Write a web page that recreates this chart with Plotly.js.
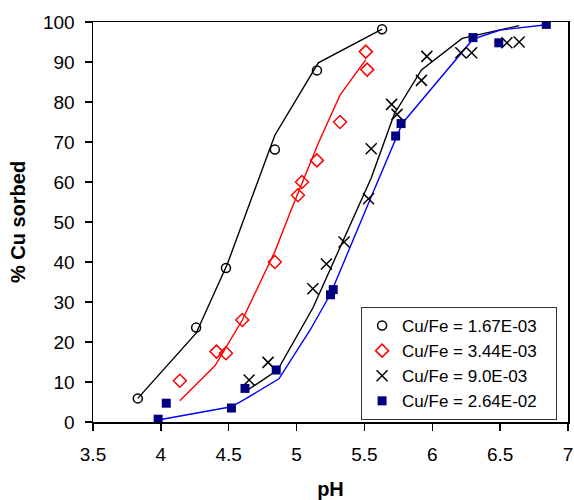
<!DOCTYPE html>
<html>
<head>
<meta charset="utf-8">
<script src="https://cdn.plot.ly/plotly-3.0.1.min.js"></script>
<style>html,body{margin:0;padding:0;background:#fff;}#chart{width:574px;height:500px;}</style>
</head>
<body>
<div id="chart"></div>
<script>
// Measured data (pH, % Cu sorbed)
var s1Name = "Cu/Fe = 1.67E-03";
var s1X = [3.83, 4.26, 4.48, 4.84, 5.15, 5.63];
var s1Y = [5.9, 23.6, 38.5, 68.1, 87.9, 98.2];

var s2Name = "Cu/Fe = 3.44E-03";
var s2X = [4.14, 4.41, 4.48, 4.60, 4.84, 5.01, 5.04, 5.15, 5.32, 5.51, 5.52];
var s2Y = [10.3, 17.6, 17.2, 25.5, 40.0, 56.7, 60.0, 65.4, 75.0, 92.6, 88.1];

var s3Name = "Cu/Fe = 9.0E-03";
var s3X = [4.65, 4.79, 5.12, 5.22, 5.35, 5.53, 5.55, 5.70, 5.74, 5.92, 5.96, 6.21, 6.29, 6.55, 6.64];
var s3Y = [10.5, 14.9, 33.3, 39.5, 45.0, 55.8, 68.3, 79.4, 76.9, 85.4, 91.4, 92.3, 92.3, 94.8, 95.0];

var s4Name = "Cu/Fe = 2.64E-02";
var s4X = [3.98, 4.04, 4.52, 4.62, 4.85, 5.25, 5.27, 5.73, 5.77, 6.30, 6.49, 6.84];
var s4Y = [0.7, 4.7, 3.5, 8.4, 13.0, 31.8, 33.1, 71.5, 74.6, 96.1, 94.8, 99.4];

// Model (fit) curves
var f1X = [3.83, 4.26, 4.49, 4.84, 5.16, 5.63];
var f1Y = [5.9, 22.2, 39.5, 71.7, 89.8, 98.2];

var f2X = [4.14, 4.40, 4.60, 4.84, 4.96, 5.16, 5.32, 5.51];
var f2Y = [5.3, 14.1, 25.5, 42.6, 53.0, 69.7, 81.7, 90.6];

var f3X = [4.64, 4.86, 5.12, 5.32, 5.55, 5.72, 5.92, 6.22, 6.64];
var f3Y = [8.0, 13.0, 28.5, 43.5, 61.0, 77.0, 88.0, 95.9, 99.1];

var f4X = [3.98, 4.52, 4.62, 4.87, 5.10, 5.25, 5.54, 5.74, 5.78, 6.30, 6.50, 6.84];
var f4Y = [0.5, 3.8, 5.7, 10.8, 23.0, 32.0, 55.5, 71.3, 74.7, 95.7, 98.0, 99.3];

var FONT = "Liberation Sans, Arial, Helvetica, sans-serif";
var PAD = "\u00a0\u00a0\u00a0"; // right padding inside the legend box

function fitLine(x, y, color) {
  return {x: x, y: y, type: "scatter", mode: "lines", showlegend: false,
          hoverinfo: "skip", line: {color: color, width: 1.4}};
}

var traces = [
  fitLine(f1X, f1Y, "#000000"),
  fitLine(f2X, f2Y, "#ff0000"),
  fitLine(f3X, f3Y, "#000000"),
  fitLine(f4X, f4Y, "#0000ff"),
  {x: s1X, y: s1Y, name: s1Name + PAD, type: "scatter", mode: "markers",
   marker: {symbol: "circle-open", size: 9, color: "#000000", line: {width: 1.5, color: "#000000"}}},
  {x: s2X, y: s2Y, name: s2Name + PAD, type: "scatter", mode: "markers",
   marker: {symbol: "diamond-open", size: 10, color: "#ff0000", line: {width: 1.5, color: "#ff0000"}}},
  {x: s3X, y: s3Y, name: s3Name + PAD, type: "scatter", mode: "markers",
   marker: {symbol: "x-thin-open", size: 11, color: "#000000", line: {width: 1.5, color: "#000000"}}},
  {x: s4X, y: s4Y, name: s4Name + PAD, type: "scatter", mode: "markers",
   marker: {symbol: "square", size: 9, color: "#000080", line: {width: 0}}}
];

var layout = {
  width: 574, height: 500,
  margin: {l: 93, r: 6, t: 22, b: 78},
  paper_bgcolor: "#ffffff", plot_bgcolor: "#ffffff",
  font: {family: FONT, color: "#000000", size: 19},
  showlegend: true,
  legend: {
    x: 0.977, xanchor: "right", y: 0.2875, yanchor: "top",
    bgcolor: "#ffffff", bordercolor: "#333333", borderwidth: 1,
    font: {family: FONT, size: 17, color: "#000000"},
    tracegroupgap: 0
  },
  xaxis: {
    range: [3.5, 7], dtick: 0.5, tick0: 3.5,
    showgrid: false, zeroline: false,
    showline: true, linecolor: "#000000", linewidth: 1.5, mirror: true,
    ticks: "outside", ticklen: 7, tickwidth: 1.5, tickcolor: "#000000",
    ticklabelstandoff: 8,
    tickfont: {family: FONT, size: 19, color: "#000000"},
    title: {text: "<b>pH</b>", font: {family: FONT, size: 20, color: "#000000"}, standoff: 18}
  },
  yaxis: {
    range: [0, 100], dtick: 10, tick0: 0,
    showgrid: false, zeroline: false,
    showline: true, linecolor: "#000000", linewidth: 1.5, mirror: true,
    ticks: "outside", ticklen: 7, tickwidth: 1.5, tickcolor: "#000000",
    ticklabelstandoff: 6,
    tickfont: {family: FONT, size: 19, color: "#000000"},
    title: {text: "<b>% Cu sorbed</b>", font: {family: FONT, size: 20, color: "#000000"}, standoff: 12}
  }
};

Plotly.newPlot("chart", traces, layout, {staticPlot: true, displayModeBar: false});
</script>
</body>
</html>
